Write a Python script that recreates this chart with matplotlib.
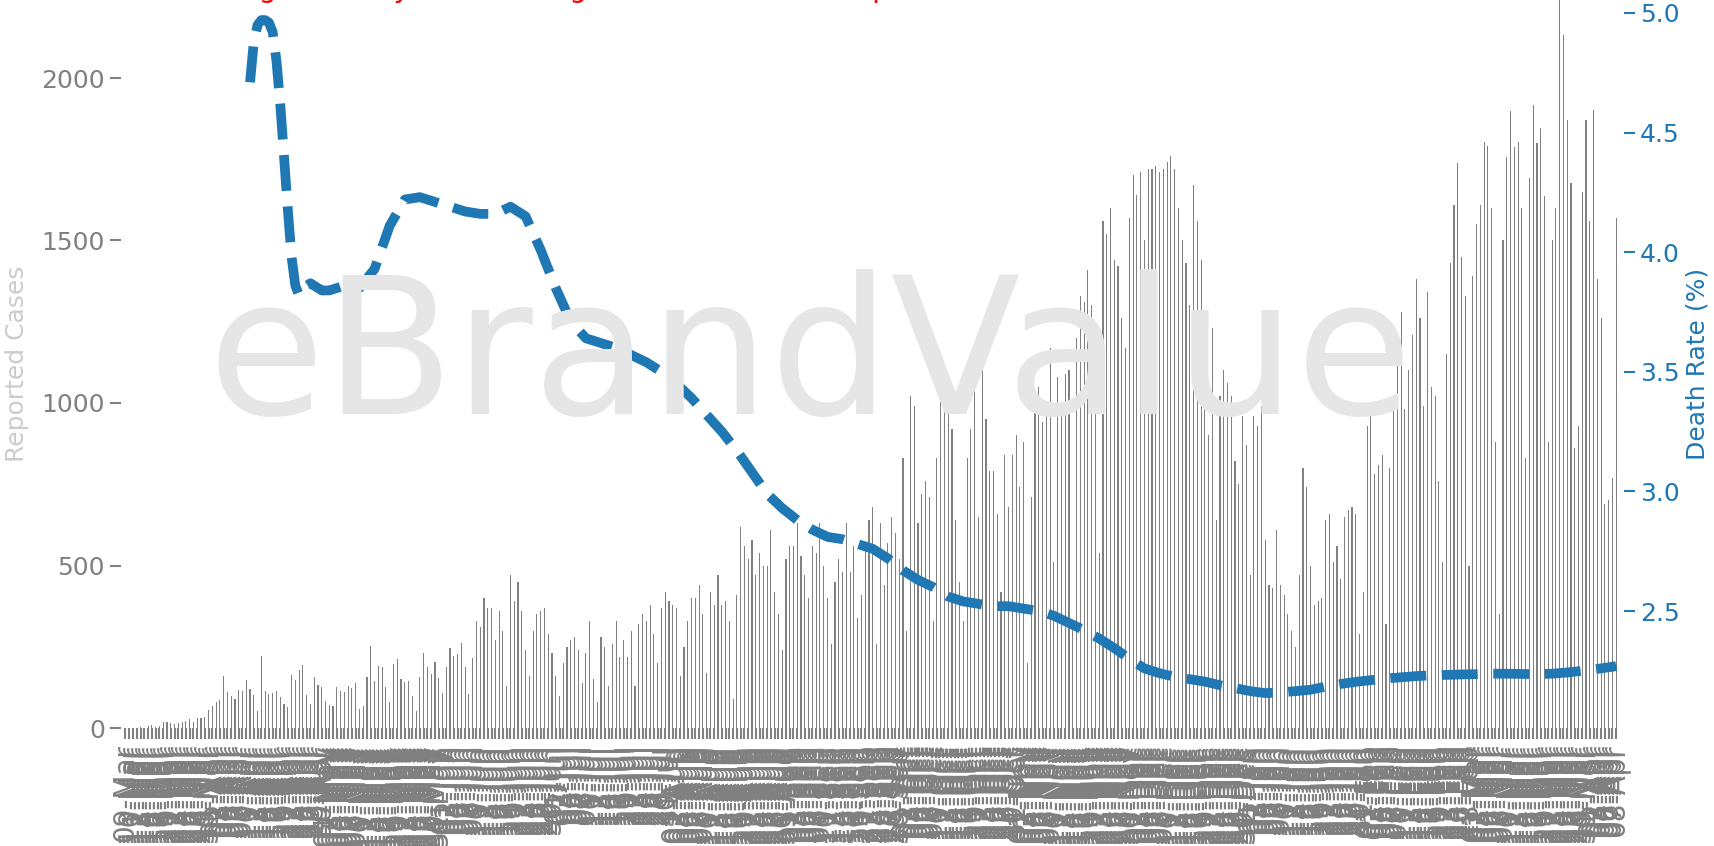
import numpy as np
import pandas as pd
import matplotlib
matplotlib.use("Agg")
import matplotlib.pyplot as plt

# Daily reported cases, one bar per day from 09-Mar-2020
cases = [0, 0, 1, 0, 2, 1,
         7, 10, 4, 7, 17, 19, 14, 13, 15, 17, 22, 28, 20, 31, 31, 35, 55, 68, 79, 86,
         160, 112, 99, 89, 116, 114, 147, 119, 102, 51, 221, 114, 106, 109, 114, 94, 75, 65,
         163, 147, 180, 194, 102, 73, 157, 133, 126, 84, 71, 68, 126, 114, 112, 130, 124, 140,
         58, 68, 157, 252, 145, 191, 188, 126, 79, 198, 211, 150, 143, 145, 99, 53, 157, 232,
         188, 167, 204, 153, 109, 188, 247, 221, 228, 262, 188, 106, 216,
         330, 310, 400, 370, 370, 270, 360, 300, 130, 470, 390, 450, 360, 240, 160, 300,
         350, 360, 370, 290, 230, 160, 100, 200, 250, 270, 280, 240, 140, 230, 330, 150,
         80, 280, 250, 130, 260, 330, 220, 270, 220, 300, 130, 320, 350, 330, 380, 290,
         200, 370, 420, 390, 380, 370, 160, 250, 330, 400, 400, 440, 350, 170, 420, 380,
         470, 380, 390, 330, 90, 410, 620, 560, 520, 580, 470, 540, 500, 500, 610, 420,
         350, 240, 520, 560, 560, 630, 530, 470, 400, 560, 540, 630, 500, 400, 260, 450,
         520, 480, 630, 480, 560, 340, 410, 560, 640, 680, 260, 630, 440, 570, 650, 600,
         520, 830, 300, 1020, 990, 630, 720, 760, 710, 330, 830, 1060, 1120, 980, 920, 640,
         450, 330, 830, 920, 1150, 650, 1100, 950, 790, 790, 660, 420, 840, 680, 840, 900,
         740, 880, 200, 710, 1020, 1050, 940, 1000, 1170, 510, 1080, 1000, 1090, 1100, 330, 1200,
         1330, 1310, 1410, 1300, 1180, 540, 1560, 1520, 1600, 1440, 1420, 1260, 1170, 1570, 1700, 1640,
         1710, 1500, 1720, 1720, 1730, 1710, 1720, 1740, 1760, 1720, 1600, 1500, 1430, 1300, 1670, 1560,
         1440, 1220, 900, 1230, 640, 1020, 1100, 1060, 1020, 820, 750, 960, 870, 470, 960, 930,
         990, 580, 440, 430, 610, 440, 410, 350, 300, 250, 470, 800, 740, 500, 380, 390,
         400, 640, 660, 510, 560, 460, 650, 670, 680, 660, 290, 420, 930, 980, 780, 810,
         840, 320, 800, 990, 1130, 1280, 980, 1100, 1210, 1380, 1260, 990, 1340, 1050, 1020, 760,
         510, 1150, 1430, 1610,
         1738, 1450, 1330, 500, 1390, 1550, 1610, 1802, 1790, 1600, 880, 350, 1500,
         1756, 1897, 1787, 1802, 1600, 830, 1692, 1918, 1799, 1845, 1637, 880, 1500, 1600,
         2260, 2133, 1870, 1677, 860, 930, 1650, 1870, 1560, 1900, 1380, 1260, 690, 700, 770, 1570]

# Death rate (%), read at selected days (index into the day axis)
rate_day = [33, 34, 35, 36, 37, 38, 39, 40, 41, 42, 43, 44, 45, 46, 47, 48, 49, 50, 51, 52, 53, 54,
            58, 62, 66, 70, 74, 78, 82, 86, 90, 94, 98, 102, 106, 110, 114, 118, 122, 126, 130,
            134, 138, 142, 146, 150, 154, 158, 162, 166, 170, 174, 178, 182, 186, 190, 194, 198,
            202, 206, 210, 214, 218, 222, 226, 230, 234, 238, 242, 246, 250, 254, 258, 262, 266,
            270, 274, 278, 282, 286, 290, 294, 298, 302, 306, 310, 314, 318, 322, 326, 330, 334,
            338, 342, 346, 350, 354, 358, 362, 366, 370, 374, 378, 382, 386, 390, 394, 395]
rate = [4.71, 4.88, 4.95, 4.97, 4.97, 4.96, 4.92, 4.80, 4.62, 4.40, 4.18, 3.98, 3.86, 3.82, 3.84,
        3.86, 3.87, 3.86, 3.85, 3.84, 3.84, 3.84,
        3.86, 3.85, 3.93, 4.11, 4.22, 4.23, 4.21, 4.19, 4.17, 4.16, 4.16, 4.19, 4.15, 4.01, 3.85,
        3.71, 3.64, 3.62, 3.60, 3.57, 3.54, 3.50, 3.45, 3.39, 3.32, 3.25, 3.17, 3.08, 2.99, 2.93,
        2.88, 2.84, 2.81, 2.80, 2.78, 2.76, 2.72, 2.67, 2.63, 2.60, 2.56, 2.54, 2.53, 2.52, 2.52,
        2.51, 2.50, 2.48, 2.45, 2.42, 2.385, 2.345, 2.30, 2.26, 2.24, 2.225, 2.215,
        2.205, 2.19, 2.178, 2.165, 2.157, 2.16, 2.165, 2.171, 2.184, 2.195, 2.204, 2.211, 2.218,
        2.223, 2.228, 2.231, 2.233, 2.235, 2.236, 2.238, 2.238, 2.237, 2.236, 2.238, 2.243, 2.25,
        2.258, 2.267, 2.27]

dates = pd.date_range("2020-03-09", periods=len(cases)).strftime("%d-%b").tolist()
x = np.arange(len(cases))

fig = plt.figure(figsize=(17.14, 8.46), dpi=100)
ax = fig.add_axes([121 / 1714, 118 / 846, 1503 / 1714, 728 / 846])

fig.text(0.473, 0.573, "eBrandValue", fontsize=137, color="#e6e6e6",
         ha="center", va="center", zorder=0)

ax.bar(x, cases, width=0.3, color="gray")
ax.set_xlim(-1.19, 397.06)
ax.set_ylim(0, 2240)
ax.set_xticks(x)
ax.set_xticklabels(dates, rotation=90, fontsize=20, color="gray")
ax.tick_params(axis="x", colors="gray", length=8, width=1.5)
ax.tick_params(axis="y", colors="gray", labelsize=18, length=8, width=1.5)
ax.set_yticks([0, 500, 1000, 1500, 2000])
ax.set_ylabel("Reported Cases", fontsize=18, color="#cccccc", labelpad=9)
for s in ax.spines.values():
    s.set_visible(False)
ax.patch.set_alpha(0)

ax2 = ax.twinx()
ax2.plot(rate_day, rate, color="tab:blue", linewidth=7, linestyle="--")
ax2.set_ylim(2.011, 5.054)
ax2.set_yticks([2.5, 3.0, 3.5, 4.0, 4.5, 5.0])
ax2.tick_params(axis="y", colors="tab:blue", labelsize=18, length=8, width=1.5)
ax2.set_ylabel("Death Rate (%)", fontsize=18, color="tab:blue")
for s in ax2.spines.values():
    s.set_visible(False)

fig.text(254 / 1714 - 0.054, 1 + 3 / 846,
         "Tracking the Daily Cases alongside the Death Rate per Week",
         fontsize=20, color="red", va="baseline")

fig.savefig("out.png", dpi=100)
